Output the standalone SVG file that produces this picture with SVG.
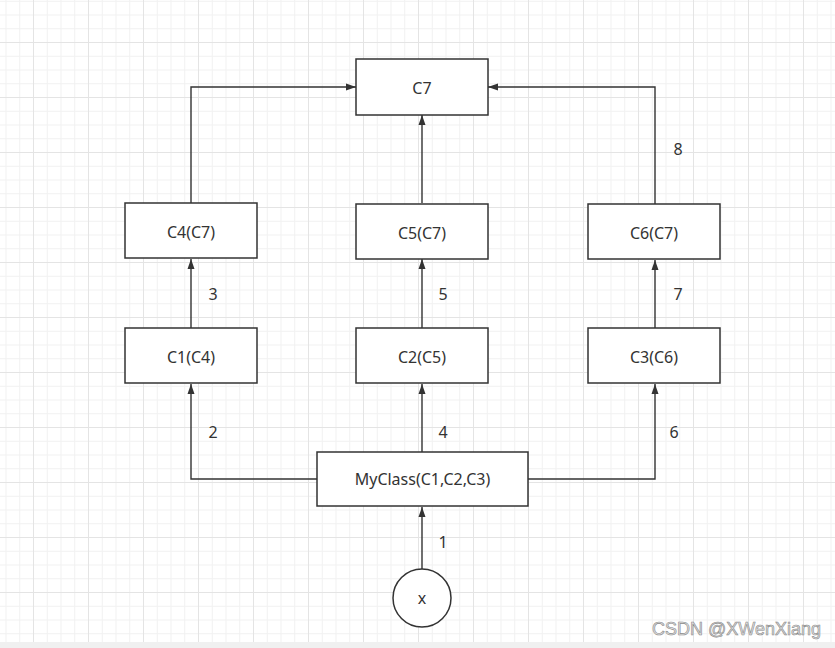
<svg xmlns="http://www.w3.org/2000/svg" width="835" height="648" viewBox="0 0 835 648">
  <defs>
    <pattern id="grid" patternUnits="userSpaceOnUse" x="33" y="42" width="55" height="55">
      <path d="M14.25,0V55M28,0V55M41.75,0V55M0,14.25H55M0,28H55M0,41.75H55" stroke="#f1f1f1" stroke-width="1" fill="none"/>
      <path d="M0.5,0V55M0,0.5H55" stroke="#e4e4e4" stroke-width="1" fill="none"/>
    </pattern>
    <marker id="arr" markerUnits="userSpaceOnUse" markerWidth="10" markerHeight="8" refX="10" refY="4" orient="auto">
      <path d="M0,0.5 L10,4 L0,7.5 Z" fill="#333"/>
    </marker>
    <style>
      .box { fill: #fff; stroke: #333; stroke-width: 1.5; }
      .t { font-family: "Noto Sans", "Liberation Sans", sans-serif; font-size: 16px; fill: #333; text-anchor: middle; }
      .lbl { font-family: "Noto Sans", "Liberation Sans", sans-serif; font-size: 16px; fill: #333; text-anchor: middle; }
      .c { fill: none; stroke: #333; stroke-width: 1.4; marker-end: url(#arr); }
    </style>
  </defs>
  <rect x="0" y="0" width="835" height="648" fill="#fff"/>
  <rect x="0" y="0" width="835" height="642" fill="url(#grid)"/>
  <rect x="0" y="642" width="835" height="6" fill="#f0f0f0"/>

  <g id="connectors">
    <path class="c" d="M422,569 V507"/>
    <path class="c" d="M317,479 H191 V384"/>
    <path class="c" d="M422,452 V384"/>
    <path class="c" d="M528,479 H655 V384"/>
    <path class="c" d="M191,328 V259"/>
    <path class="c" d="M422,328 V259"/>
    <path class="c" d="M655,328 V260"/>
    <path class="c" d="M191,203 V87 H356"/>
    <path class="c" d="M422,203 V115"/>
    <path class="c" d="M655,204 V87 H488"/>
    <text class="lbl" x="443" y="548">1</text>
    <text class="lbl" x="213" y="438">2</text>
    <text class="lbl" x="443" y="438">4</text>
    <text class="lbl" x="674" y="438">6</text>
    <text class="lbl" x="213" y="300">3</text>
    <text class="lbl" x="443" y="300">5</text>
    <text class="lbl" x="678" y="300">7</text>
    <text class="lbl" x="678" y="155">8</text>
  </g>

  <g id="C7">
    <rect class="box" x="356" y="59" width="132" height="56"/>
    <text class="t" x="422" y="94">C7</text>
  </g>
  <g id="C4">
    <rect class="box" x="125" y="203" width="132" height="55"/>
    <text class="t" x="191" y="238">C4(C7)</text>
  </g>
  <g id="C5">
    <rect class="box" x="356" y="204" width="132" height="55"/>
    <text class="t" x="422" y="239">C5(C7)</text>
  </g>
  <g id="C6">
    <rect class="box" x="588" y="204" width="132" height="55"/>
    <text class="t" x="654" y="239">C6(C7)</text>
  </g>
  <g id="C1">
    <rect class="box" x="125" y="328" width="132" height="55"/>
    <text class="t" x="191" y="363">C1(C4)</text>
  </g>
  <g id="C2">
    <rect class="box" x="356" y="328" width="132" height="55"/>
    <text class="t" x="422" y="363">C2(C5)</text>
  </g>
  <g id="C3">
    <rect class="box" x="588" y="328" width="132" height="55"/>
    <text class="t" x="654" y="363">C3(C6)</text>
  </g>
  <g id="MyClass">
    <rect class="box" x="317" y="452" width="211" height="54"/>
    <text class="t" x="422.5" y="485">MyClass(C1,C2,C3)</text>
  </g>
  <g id="x">
    <circle cx="422" cy="598" r="29" fill="#fff" stroke="#333" stroke-width="1.5"/>
    <text class="t" x="422" y="604">x</text>
  </g>
  <text x="652" y="635" font-family="Liberation Sans, Arial, sans-serif" font-size="18" fill="#e0e0e0" stroke="#8a8a8a" stroke-width="0.6">CSDN @XWenXiang</text>
</svg>
